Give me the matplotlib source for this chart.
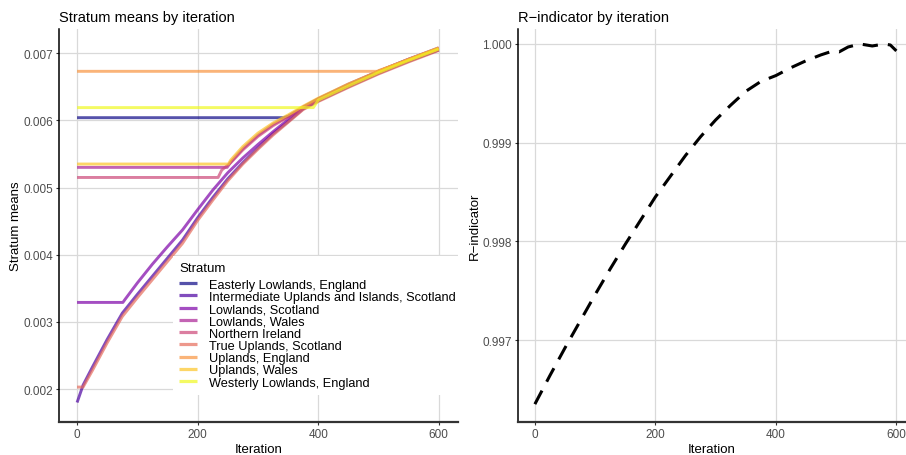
import numpy as np
import matplotlib
matplotlib.use("Agg")
import matplotlib.pyplot as plt
from matplotlib import cm

plt.rcParams["font.family"] = ["Liberation Sans", "DejaVu Sans"]

# --- stratum means by iteration ---
strata = [
    "Easterly Lowlands, England",
    "Intermediate Uplands and Islands, Scotland",
    "Lowlands, Scotland",
    "Lowlands, Wales",
    "Northern Ireland",
    "True Uplands, Scotland",
    "Uplands, England",
    "Uplands, Wales",
    "Westerly Lowlands, England",
]

easterly_it = [0, 343, 350, 375, 400, 450, 500, 550, 600]
easterly_mean = [0.00604, 0.00604, 0.00606, 0.00618, 0.00630, 0.00651, 0.00671, 0.00689, 0.00705]

intermediate_it = [0, 10, 25, 50, 75, 100, 125, 150, 175, 200, 225, 250, 275, 300, 325, 350, 375, 400, 450, 500, 550, 600]
intermediate_mean = [0.00180, 0.00206, 0.00232, 0.00274, 0.00313, 0.00341, 0.00368, 0.00395, 0.00422, 0.00455,
                     0.00485, 0.00513, 0.00537, 0.00559, 0.00580, 0.00598, 0.00617, 0.00629, 0.00650, 0.00670,
                     0.00688, 0.00705]

lowl_scot_it = [0, 76, 80, 100, 125, 150, 175, 200, 225, 250, 275, 300, 325, 350, 375, 400, 450, 500, 550, 600]
lowl_scot_mean = [0.00329, 0.00329, 0.00334, 0.00358, 0.00386, 0.00412, 0.00437, 0.00467, 0.00496, 0.00522,
                  0.00544, 0.00564, 0.00583, 0.00601, 0.00619, 0.00632, 0.00653, 0.00673, 0.00691, 0.00708]

lowl_wales_it = [0, 249, 255, 275, 300, 325, 350, 375, 400, 450, 500, 550, 600]
lowl_wales_mean = [0.00530, 0.00530, 0.00538, 0.00558, 0.00578, 0.00594, 0.00606, 0.00620, 0.00632, 0.00654,
                   0.00673, 0.00691, 0.00707]

ni_it = [0, 234, 240, 255, 275, 300, 325, 350, 375, 400, 450, 500, 550, 600]
ni_mean = [0.00515, 0.00515, 0.00526, 0.00537, 0.00556, 0.00576, 0.00592, 0.00605, 0.00619, 0.00631, 0.00652,
           0.00671, 0.00690, 0.00706]

true_upl_it = [0, 10, 25, 50, 75, 100, 125, 150, 175, 200, 225, 250, 275, 300, 325, 350, 375, 400, 450, 500, 550, 600]
true_upl_mean = [0.00203, 0.00203, 0.00227, 0.00269, 0.00308, 0.00336, 0.00363, 0.00390, 0.00417, 0.00451,
                 0.00481, 0.00510, 0.00535, 0.00557, 0.00578, 0.00597, 0.00616, 0.00628, 0.00649, 0.00669,
                 0.00687, 0.00704]

upl_eng_it = [0, 498, 500, 525, 550, 575, 600]
upl_eng_mean = [0.00673, 0.00673, 0.00674, 0.00682, 0.00690, 0.00699, 0.00707]

upl_wales_it = [0, 251, 255, 275, 300, 325, 350, 375, 400, 450, 500, 550, 600]
upl_wales_mean = [0.00535, 0.00535, 0.00541, 0.00561, 0.00581, 0.00596, 0.00608, 0.00621, 0.00633, 0.00654,
                  0.00673, 0.00691, 0.00708]

westerly_it = [0, 392, 400, 450, 500, 550, 600]
westerly_mean = [0.00619, 0.00619, 0.00630, 0.00651, 0.00671, 0.00689, 0.00706]

stratum_its = [easterly_it, intermediate_it, lowl_scot_it, lowl_wales_it, ni_it,
               true_upl_it, upl_eng_it, upl_wales_it, westerly_it]
stratum_means = [easterly_mean, intermediate_mean, lowl_scot_mean, lowl_wales_mean, ni_mean,
                 true_upl_mean, upl_eng_mean, upl_wales_mean, westerly_mean]

# --- R-indicator by iteration ---
r_it = [0, 25, 50, 75, 100, 125, 150, 175, 200, 225, 250, 275, 300, 325, 350, 375, 400,
        425, 450, 475, 495, 505, 520, 540, 560, 580, 590, 600]
r_ind = [0.99635, 0.99664, 0.99692, 0.99719, 0.99746, 0.99772, 0.99797, 0.99821, 0.99845, 0.99866,
         0.99887, 0.99906, 0.99923, 0.99938, 0.99952, 0.99962, 0.99968, 0.99976, 0.99983, 0.99989,
         0.99993, 0.99992, 0.99997, 1.00000, 0.99998, 1.00000, 0.99999, 0.99993]

W, H = 906, 456
fig = plt.figure(figsize=(W / 100, H / 100), dpi=100)


def style(ax):
    ax.set_facecolor("white")
    ax.grid(True, color="#d9d9d9", lw=0.9)
    ax.set_axisbelow(True)
    for s in ["top", "right"]:
        ax.spines[s].set_visible(False)
    ax.spines["left"].set_color("black")
    ax.spines["left"].set_linewidth(1.1)
    ax.spines["bottom"].set_color("#333333")
    ax.spines["bottom"].set_linewidth(1.6)
    ax.tick_params(direction="out", length=2.5, width=0.8, color="#333333",
                   labelsize=8.5, labelcolor="#4d4d4d", pad=2)


ax1 = fig.add_axes([59 / W, 1 - 423 / H, (458 - 59) / W, (423 - 30) / H])
style(ax1)
colors = cm.plasma(np.linspace(0, 1, len(strata)))
for name, its, means, c in zip(strata, stratum_its, stratum_means, colors):
    ax1.plot(its, means, color=c, alpha=0.7, lw=2.1, label=name, solid_capstyle="butt")
ax1.set_xlim(-30, 632)
ax1.set_ylim(0.00151, 0.00736)
ax1.set_xticks([0, 200, 400, 600])
ax1.set_yticks([0.002, 0.003, 0.004, 0.005, 0.006, 0.007])
ax1.yaxis.set_major_formatter(matplotlib.ticker.FormatStrFormatter("%.3f"))
ax1.set_xlabel("Iteration", fontsize=9.5, labelpad=2)
ax1.set_ylabel("Stratum means", fontsize=9.5, labelpad=1)
ax1.set_title("Stratum means by iteration", loc="left", fontsize=10.5, pad=6)
leg = ax1.legend(title="Stratum", loc="upper left", bbox_to_anchor=(173 / W, 1 - 257 / H),
                 bbox_transform=fig.transFigure, fontsize=9.2, title_fontsize=9.5,
                 frameon=True, fancybox=False, facecolor="white", edgecolor="none", framealpha=1,
                 handlelength=1.4, handletextpad=0.95, labelspacing=0.02, borderpad=0.5,
                 borderaxespad=0, alignment="left")
leg._legend_box.sep = 3
for h in leg.get_lines():
    h.set_linewidth(2.3)

ax2 = fig.add_axes([518 / W, 1 - 423 / H, (906 - 518) / W, (423 - 30) / H])
style(ax2)
ax2.plot(r_it, r_ind, color="black", lw=2.2, dashes=(5, 3.3))
ax2.set_xlim(-28, 616)
ax2.set_ylim(0.996169, 1.000152)
ax2.set_xticks([0, 200, 400, 600])
ax2.set_yticks([0.997, 0.998, 0.999, 1.000])
ax2.yaxis.set_major_formatter(matplotlib.ticker.FormatStrFormatter("%.3f"))
ax2.set_xlabel("Iteration", fontsize=9.5, labelpad=2)
ax2.set_ylabel("R\u2212indicator", fontsize=9.5, labelpad=1)
ax2.set_title("R\u2212indicator by iteration", loc="left", fontsize=10.5, pad=6)

fig.savefig("out.png", dpi=100)
